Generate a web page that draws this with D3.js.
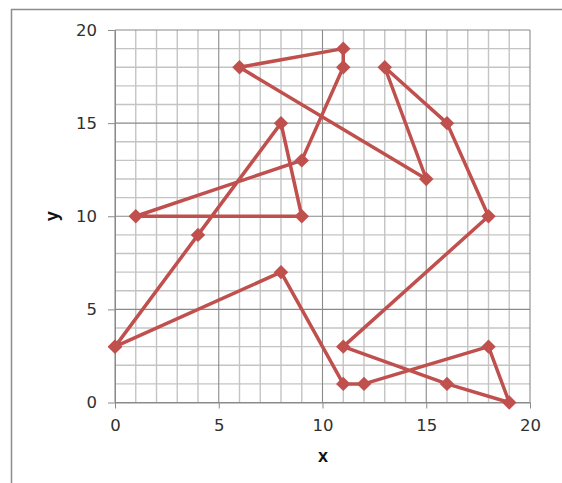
<!DOCTYPE html>
<html>
<head>
<meta charset="utf-8">
<script src="https://cdn.jsdelivr.net/npm/d3@7"></script>
<style>
html,body{margin:0;padding:0;background:#fff;}
svg{display:block;}
</style>
</head>
<body>
<svg id="chart" width="562" height="483"></svg>
<script>
const xValues = [0, 4, 8, 9, 1, 9, 11, 11, 6, 15, 13, 16, 18, 11, 16, 19, 18, 12, 11, 8, 0];
const yValues = [3, 9, 15, 10, 10, 13, 18, 19, 18, 12, 18, 15, 10, 3, 1, 0, 3, 1, 1, 7, 3];
const xTicks = [0, 5, 10, 15, 20];
const yTicks = [0, 5, 10, 15, 20];
const xTitle = "x";
const yTitle = "y";

(function () {
const svg = d3.select("#chart");
const pL = 115, pR = 530, pT = 30, pB = 402.5;
const x = d3.scaleLinear().domain([0, 20]).range([pL, pR]);
const y = d3.scaleLinear().domain([0, 20]).range([pB, pT]);

svg.append("rect").attr("x", 11.5).attr("y", 9.5).attr("width", 600).attr("height", 600)
  .attr("fill", "none").attr("stroke", "#8c8c8c").attr("stroke-width", 1.5);

const minor = d3.range(0, 21, 1);
const g = svg.append("g");
minor.filter(v => v % 5 !== 0).forEach(v => {
  g.append("line").attr("x1", x(v)).attr("x2", x(v)).attr("y1", pT).attr("y2", pB)
    .attr("stroke", "#c4c4c4").attr("stroke-width", 1.4);
  g.append("line").attr("y1", y(v)).attr("y2", y(v)).attr("x1", pL).attr("x2", pR)
    .attr("stroke", "#c4c4c4").attr("stroke-width", 1.4);
});
xTicks.forEach(v => {
  g.append("line").attr("x1", x(v)).attr("x2", x(v)).attr("y1", pT).attr("y2", pB)
    .attr("stroke", "#8a8a8a").attr("stroke-width", 1.1);
});
yTicks.forEach(v => {
  g.append("line").attr("y1", y(v)).attr("y2", y(v)).attr("x1", pL).attr("x2", pR)
    .attr("stroke", "#8a8a8a").attr("stroke-width", 1.1);
});

const xAxis = d3.axisBottom(x).tickValues(xTicks).tickSize(6).tickPadding(11).tickSizeOuter(0);
const yAxis = d3.axisLeft(y).tickValues(yTicks).tickSize(7).tickPadding(11).tickSizeOuter(0);
const ax = svg.append("g").attr("transform", `translate(0,${pB})`).call(xAxis);
const ay = svg.append("g").attr("transform", `translate(${pL},0)`).call(yAxis);
[ax, ay].forEach(a => {
  a.select(".domain").attr("stroke", "#8a8a8a");
  a.selectAll(".tick line").attr("stroke", "#8a8a8a");
  a.selectAll(".tick text").attr("fill", "#303030")
    .style("font-family", "DejaVu Sans, Verdana, sans-serif").style("font-size", "16.5px");
});

const pts = xValues.map((v, i) => [v, yValues[i]]);
svg.append("path").datum(pts)
  .attr("d", d3.line().x(d => x(d[0])).y(d => y(d[1])))
  .attr("fill", "none").attr("stroke", "#c0504d").attr("stroke-width", 3.5)
  .attr("stroke-linejoin", "round");

svg.append("g").selectAll("path").data(pts).join("path")
  .attr("transform", d => `translate(${x(d[0])},${y(d[1])}) rotate(45)`)
  .attr("d", d3.symbol().type(d3.symbolSquare).size(105))
  .attr("fill", "#c0504d");

svg.append("text").attr("x", (pL + pR) / 2 + 0.5).attr("y", 462)
  .attr("text-anchor", "middle").attr("font-family", "Liberation Sans, Arial, sans-serif")
  .attr("font-weight", "bold").attr("font-size", 18).attr("fill", "#111").text(xTitle);
svg.append("text").attr("transform", `translate(58,${(pT + pB) / 2}) rotate(-90)`)
  .attr("text-anchor", "middle").attr("font-family", "Liberation Sans, Arial, sans-serif")
  .attr("font-weight", "bold").attr("font-size", 18).attr("fill", "#111").text(yTitle);
})();
</script>
</body>
</html>
